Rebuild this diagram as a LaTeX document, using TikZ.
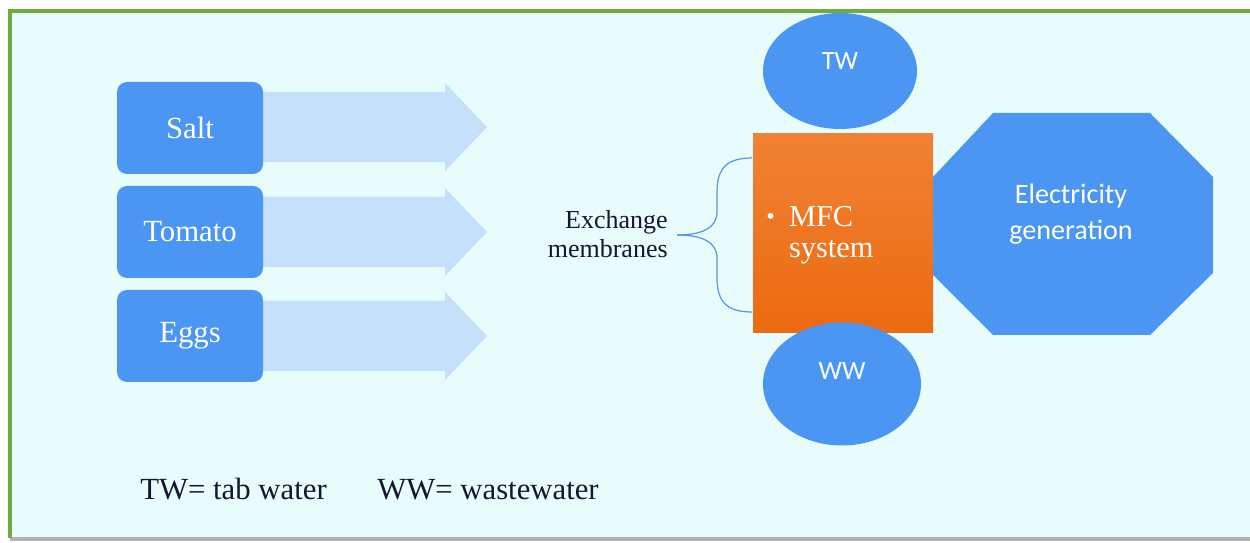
\documentclass[tikz,border=0pt]{standalone}
\usepackage{fontspec}
\setmainfont{Liberation Serif}
\newfontfamily\calibri{Carlito}
\usetikzlibrary{calc,shapes.geometric}
\definecolor{pagebg}{RGB}{233,252,252}
\definecolor{framegreen}{RGB}{112,170,62}
\definecolor{boxblue}{RGB}{74,150,242}
\definecolor{arrowblue}{RGB}{196,224,250}
\definecolor{mfctop}{RGB}{240,130,52}
\definecolor{mfcbot}{RGB}{236,106,16}
\definecolor{bracecol}{RGB}{88,150,232}
\definecolor{inktext}{RGB}{22,22,48}
\tikzset{
  inbox/.style={fill=boxblue, rounded corners=10*0.02cm, minimum width=146*0.02cm,
    minimum height=92*0.02cm, text=white, inner sep=0pt,
    font=\fontsize{17.5}{21}\selectfont},
  waterball/.style={ellipse, fill=boxblue, text=white, inner sep=0pt},
  flowarrow/.style={fill=arrowblue},
  darktext/.style={text=inktext, inner sep=0pt},
}
\begin{document}
\begin{tikzpicture}[x=0.02cm, y=-0.02cm]
\useasboundingbox (0,0) rectangle (1250,543);
% slide background and frame
\fill[white] (0,0) rectangle (1250,543);
\fill[pagebg] (10,11) rectangle (1250,538);
\fill[black!30] (10,537) rectangle (1250,541);
\fill[framegreen] (8,9) rectangle (1250,13);
\fill[framegreen] (8,9) rectangle (12,538);

% substrate arrows (behind the boxes)
\foreach \yc in {127,232,336} {
  \fill[flowarrow] (255,\yc-35) -- (445,\yc-35) -- (445,\yc-44) -- (487,\yc)
    -- (445,\yc+44) -- (445,\yc+35) -- (255,\yc+35) -- cycle;
}

% substrate boxes
\node[inbox] (salt)   at (190,128) {Salt};
\node[inbox] (tomato) at (190,232) {Tomato};
\node[inbox] (eggs)   at (190,336) {Eggs};

% MFC reactor
\node[minimum width=180*0.02cm, minimum height=199*0.02cm, inner sep=0pt,
  top color=mfctop, bottom color=mfcbot] (mfc) at (843,233.5) {};
\node[text=white, align=left, anchor=base west, inner sep=0pt,
  font=\fontsize{17.3}{18}\selectfont] (mfctext) at (766,258)
  {{\fontsize{14}{14}\selectfont\raisebox{0.2ex}{\textbullet}}\hspace{8pt}MFC\\
   \hphantom{{\fontsize{14}{14}\selectfont\textbullet}\hspace{8pt}}system};

% water inputs
\node[waterball, minimum width=154*0.02cm, minimum height=116*0.02cm] (tw) at (840,71) {};
\node[text=white, font=\calibri\fontsize{15}{15}\selectfont] at (840,61) {TW};
\node[waterball, minimum width=158*0.02cm, minimum height=123*0.02cm] (ww) at (842,384) {};
\node[text=white, font=\calibri\fontsize{15}{15}\selectfont] at (842,371) {WW};

% electricity output
\fill[boxblue] (993,113) -- (1150,113) -- (1213,177) -- (1213,273) -- (1150,335)
  -- (993,335) -- (933,275) -- (933,177) -- cycle;
\node[text=white, align=center, font=\calibri\fontsize{16}{20.4}\selectfont] (elec)
  at (1071,214) {Electricity\\generation};

% membrane brace and label
\coordinate (btop) at (752,158);
\coordinate (bbot) at (752,312);
\coordinate (btip) at (677,235);
\draw[bracecol, line width=0.7pt] (btop) .. controls (727,158) and (717,168) .. (717,192)
  -- (717,212) .. controls (717,228) and (702,235) .. (btip);
\draw[bracecol, line width=0.7pt] (bbot) .. controls (727,312) and (717,302) .. (717,278)
  -- (717,258) .. controls (717,242) and (702,235) .. (btip);
\node[darktext, align=right, anchor=east, font=\fontsize{14.8}{16.4}\selectfont]
  (memb) at (668,234) {Exchange\\membranes};

% legend
\node[darktext, anchor=base west, font=\fontsize{17.5}{21}\selectfont] (legtw)
  at (140,499) {TW= tab water};
\node[darktext, anchor=base west, font=\fontsize{17.5}{21}\selectfont] (legww)
  at (377,499) {WW= wastewater};
\end{tikzpicture}
\end{document}
